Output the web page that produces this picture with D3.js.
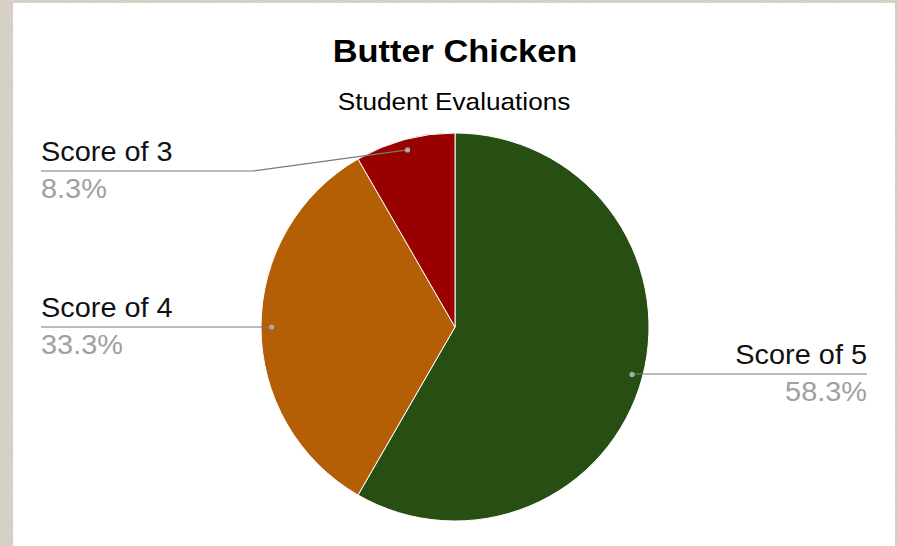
<!DOCTYPE html>
<html>
<head>
<meta charset="utf-8">
<script src="https://cdn.jsdelivr.net/npm/d3@7"></script>
<style>
  html, body { margin: 0; padding: 0; background: #cdc3b6; }
  svg { display: block; }
  text { font-family: "Liberation Sans", Arial, sans-serif; }
</style>
</head>
<body>
<svg id="chart" width="898" height="546"></svg>
<script>
// ---- Data ----
const categories = ["Score of 5", "Score of 4", "Score of 3"];
const values = [7, 4, 1];
const colors = ["#274e13", "#b45f06", "#990000"];
const title = "Butter Chicken";
const subtitle = "Student Evaluations";

// ---- Layout ----
const W = 898, H = 546;
const cx = 455, cy = 327, R = 194;
const svg = d3.select("#chart");

// textured background
const defs = svg.append("defs");
const f = defs.append("filter").attr("id", "tex").attr("x", 0).attr("y", 0).attr("width", "100%").attr("height", "100%");
f.append("feTurbulence").attr("type", "fractalNoise").attr("baseFrequency", 0.6).attr("numOctaves", 2).attr("seed", 3).attr("result", "n");
f.append("feColorMatrix").attr("in", "n").attr("type", "matrix")
  .attr("values", "0 0 0 0 0.79  0 0 0 0 0.76  0 0 0 0 0.71  0.35 0.35 0.35 0 -0.15").attr("result", "c");
f.append("feComposite").attr("in", "c").attr("in2", "SourceGraphic").attr("operator", "over");
svg.append("rect").attr("width", W).attr("height", H).attr("fill", "#cfc6ba");
svg.append("rect").attr("width", W).attr("height", H).attr("fill", "#cfc6ba").attr("filter", "url(#tex)").attr("opacity", 0.9);

// white panel
svg.append("rect").attr("x", 13).attr("y", 3).attr("width", 882).attr("height", 543).attr("fill", "#ffffff");

// helper: horizontally widened text
function addText(x, y, str, opts) {
  return svg.append("text")
    .attr("transform", `translate(${x},${y}) scale(${opts.sx},1)`)
    .attr("text-anchor", opts.anchor || "start")
    .attr("font-size", opts.size)
    .attr("font-weight", opts.weight || "normal")
    .attr("fill", opts.fill || "#000")
    .text(str);
}

// titles
addText(455, 62, title, { sx: 1.11, anchor: "middle", size: 31, weight: "bold", fill: "#000" });
addText(454, 110, subtitle, { sx: 1.09, anchor: "middle", size: 24, fill: "#000" });

// pie
const total = d3.sum(values);
const pie = d3.pie().sort(null).value(d => d)(values);
const arc = d3.arc().innerRadius(0).outerRadius(R);
const dotArc = d3.arc().innerRadius(R * 0.945).outerRadius(R * 0.945);
const g = svg.append("g").attr("transform", `translate(${cx},${cy})`);
g.selectAll("path").data(pie).join("path")
  .attr("d", arc)
  .attr("fill", (d, i) => colors[i])
  .attr("stroke", "#fff").attr("stroke-width", 1);

// labels
const pct = d3.format(".1%");
const labelPos = [
  { side: "right", x: 867, lineY: 374, elbowX: null },
  { side: "left", x: 41, lineY: 327, elbowX: null },
  { side: "left", x: 41, lineY: 171, elbowX: 253 }
];
pie.forEach((d, i) => {
  const [dx, dy] = dotArc.centroid(d);
  const px = cx + dx, py = cy + dy;
  const lp = labelPos[i];
  const ex = lp.elbowX == null ? px : lp.elbowX;
  const pts = [[px, py], [ex, lp.lineY], [lp.x, lp.lineY]];
  svg.append("path").attr("d", d3.line()(pts)).attr("fill", "none")
    .attr("stroke", "#7a7a7a").attr("stroke-width", 1.2);
  svg.append("circle").attr("cx", px).attr("cy", py).attr("r", 2.6).attr("fill", "#a9a9a9");
  const anchor = lp.side === "right" ? "end" : "start";
  addText(lp.x, lp.lineY - 10, categories[i], { sx: 1.07, anchor, size: 27, fill: "#111" });
  addText(lp.x, lp.lineY + 27, pct(values[i] / total), { sx: 1.07, anchor, size: 27, fill: "#a0a0a0" });
});
</script>
</body>
</html>
